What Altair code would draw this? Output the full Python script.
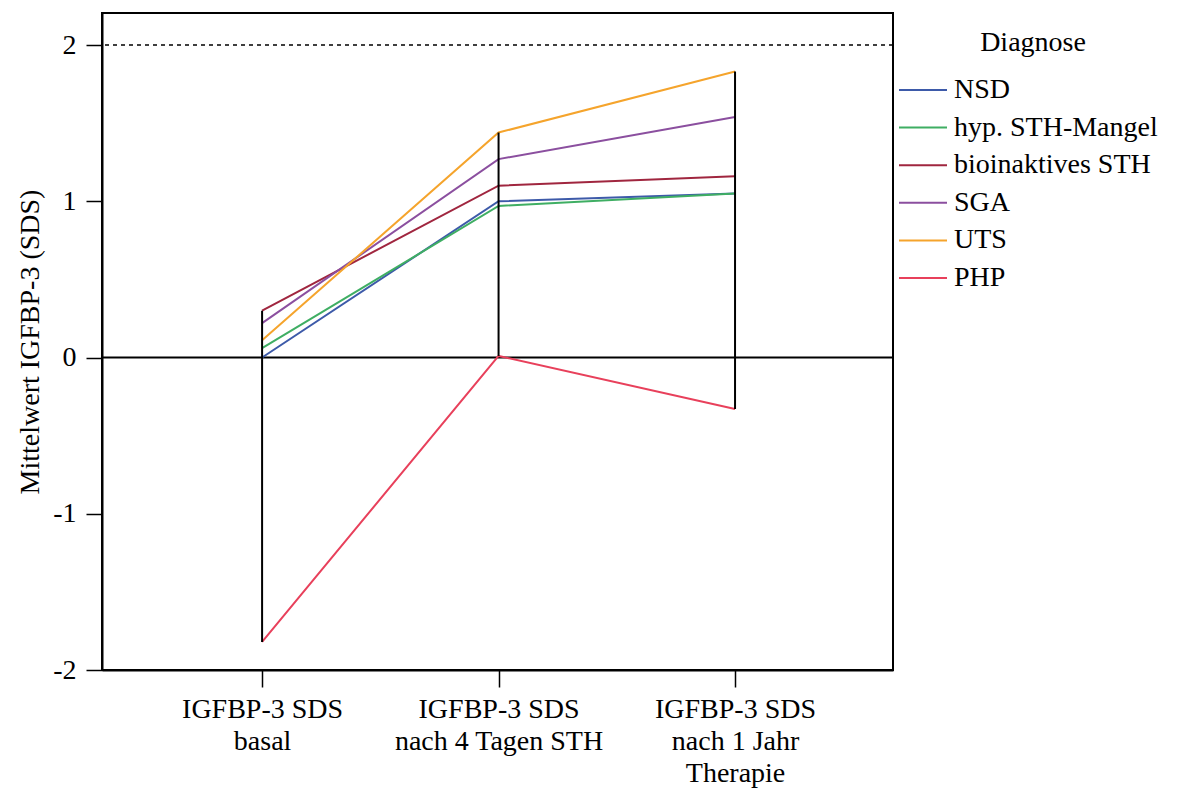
import json
import altair as alt
import pandas as pd

# Measurement points (x positions 1..3) and their multi-line tick labels
step_pos = [1, 2, 3]
step_labels = [
    ["IGFBP-3 SDS", "basal"],
    ["IGFBP-3 SDS", "nach 4 Tagen STH"],
    ["IGFBP-3 SDS", "nach 1 Jahr", "Therapie"],
]

# Group means of IGFBP-3 SDS per diagnosis
groups = ["NSD", "hyp. STH-Mangel", "bioinaktives STH", "SGA", "UTS", "PHP"]
nsd = [0.00, 1.00, 1.05]
hyp = [0.06, 0.97, 1.05]
bio = [0.30, 1.10, 1.16]
sga = [0.22, 1.27, 1.54]
uts = [0.11, 1.44, 1.83]
php = [-1.82, 0.01, -0.33]
colors = ["#3d5aa9", "#3fae63", "#a0263f", "#8b4f9f", "#f5a42c", "#e8405b"]

# Reference lines
zero_line = [0]
upper_line = [2]

rows = []
for name, vals in zip(groups, [nsd, hyp, bio, sga, uts, php]):
    for p, v in zip(step_pos, vals):
        rows.append({"pos": p, "Diagnose": name, "value": v})
df = pd.DataFrame(rows)

label_expr = " : ".join(
    f"datum.value == {p} ? {json.dumps(lbl)}" for p, lbl in zip(step_pos, step_labels)
) + " : ''"

FONT = "'Liberation Serif', 'Times New Roman', 'DejaVu Serif', serif"
FS = 28

x_enc = alt.X(
    "pos:Q",
    scale=alt.Scale(domain=[0.323, 3.668], nice=False, zero=False),
    axis=alt.Axis(
        values=step_pos, labelExpr=label_expr, title=None, grid=False,
        tickSize=17, labelPadding=8, labelLineHeight=32, labelLimit=500,
    ),
)
y_enc = alt.Y(
    "value:Q",
    scale=alt.Scale(domain=[-2, 2.205], nice=False, zero=False),
    axis=alt.Axis(
        values=[-2, -1, 0, 1, 2], labelExpr="'' + datum.value",
        title="Mittelwert IGFBP-3 (SDS)",
        grid=False, tickSize=16, labelPadding=10, titlePadding=8,
    ),
)

lines = alt.Chart(df).mark_line(strokeWidth=2).encode(
    x=x_enc,
    y=y_enc,
    color=alt.Color(
        "Diagnose:N",
        scale=alt.Scale(domain=groups, range=colors),
        sort=groups,
        legend=alt.Legend(
            orient="none", legendX=807, legendY=16,
            symbolType="M-2,0H2", symbolSize=576, symbolStrokeWidth=2,
            labelOffset=17, rowPadding=9.6, titlePadding=19,
            titleAnchor="middle",
        ),
    ),
)

ranges = alt.Chart(df).mark_rule(color="black", strokeWidth=2).encode(
    x="pos:Q", y="min(value):Q", y2="max(value):Q"
)

zero_rule = alt.Chart(pd.DataFrame({"v": zero_line})).mark_rule(
    color="black", strokeWidth=2
).encode(y="v:Q")

upper_rule = alt.Chart(pd.DataFrame({"v": upper_line})).mark_rule(
    color="black", strokeWidth=1.5, strokeDash=[4, 4]
).encode(y="v:Q")

chart = (
    alt.layer(upper_rule, zero_rule, lines, ranges)
    .properties(
        width=791, height=657,
        autosize=alt.AutoSizeParams(type="none"),
        padding={"left": 102, "top": 13, "right": 293, "bottom": 122},
        background="white",
    )
    .configure_view(stroke="black", strokeWidth=2)
    .configure_axis(
        domainColor="black", domainWidth=2, tickColor="black", tickWidth=1.5,
        labelColor="black", labelFont=FONT, labelFontSize=FS,
        titleColor="black", titleFont=FONT, titleFontSize=FS, titleFontWeight="normal",
    )
    .configure_legend(
        labelFont=FONT, labelFontSize=FS, labelColor="black", labelLimit=500,
        titleFont=FONT, titleFontSize=FS, titleFontWeight="normal", titleColor="black",
    )
)

chart.save("out.html", embed_options={"renderer": "svg", "actions": False})
